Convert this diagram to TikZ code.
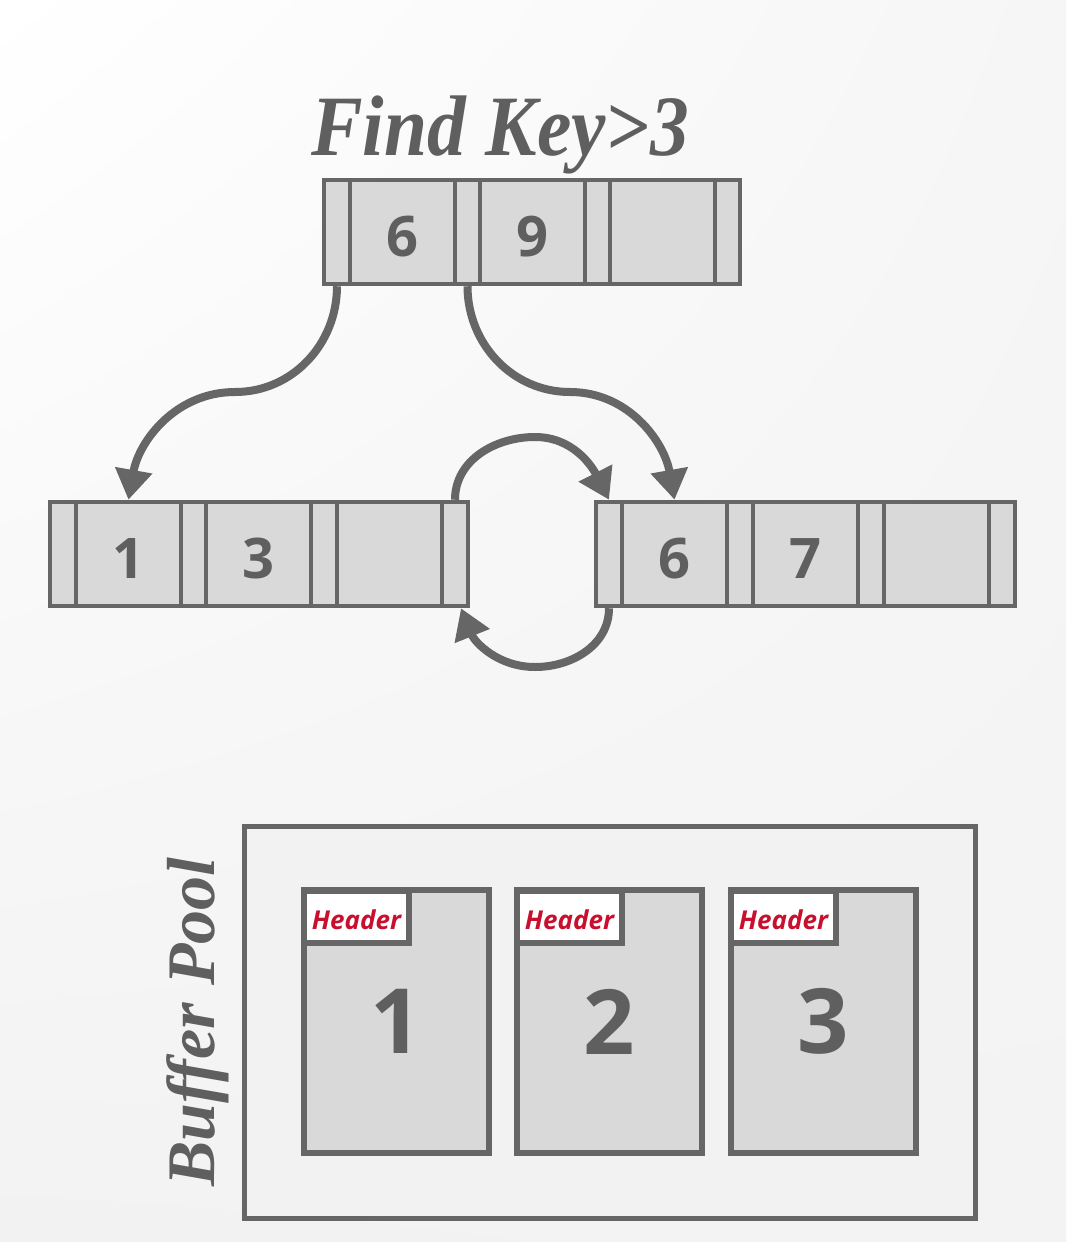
\documentclass[tikz,border=0pt]{standalone}
\usepackage{fontspec}
\setmainfont{Liberation Serif}
\newfontfamily\digitfont{Open Sans}
\usetikzlibrary{arrows.meta,shadings}
\definecolor{gc}{HTML}{666666}
\definecolor{tc}{HTML}{5F5F5F}
\definecolor{cf}{HTML}{D9D9D9}
\definecolor{pf}{HTML}{F2F2F2}
\definecolor{hr}{HTML}{C8102E}
\definecolor{bga}{HTML}{F6F6F6}
\definecolor{bgc}{HTML}{F2F2F2}
\definecolor{bgb}{HTML}{F3F3F3}
\begin{document}
\begin{tikzpicture}[x=1pt,y=1pt,
  cell/.style={draw=gc, fill=cf, line width=4.5pt, inner sep=0pt, minimum height=104pt,
    text=tc, text height=48pt, text depth=0pt,
    font=\digitfont\bfseries\fontsize{56}{56}\selectfont},
  keycell/.style={cell, minimum width=105pt},
  ptrcell/.style={cell, minimum width=26pt},
  link/.style={draw=gc, line width=8pt, -{Triangle[length=30pt,width=36pt]}},
  pool/.style={draw=gc, fill=pf, line width=5pt, inner sep=0pt},
  page/.style={draw=gc, fill=cf, line width=6pt, inner sep=0pt, minimum width=185pt,
    minimum height=263pt, text=tc, font=\digitfont\bfseries\fontsize{90}{90}\selectfont},
  hdr/.style={draw=gc, fill=white, line width=6pt, inner sep=0pt, minimum width=105pt,
    minimum height=52pt, text=hr, text height=25pt, text depth=0pt,
    font=\digitfont\bfseries\itshape\fontsize{26}{26}\selectfont},
  title/.style={text=tc, font=\bfseries\itshape\fontsize{86}{86}\selectfont}
]
% background
\shade[upper left=white, upper right=bga, lower left=bgc, lower right=bgb] (0,0) rectangle (1066,-1242);
\useasboundingbox (0,0) rectangle (1066,-1242);

% title
\node[title, anchor=base, xscale=0.9, transform shape] (find) at (500,-155) {Find Key>3};

% top node
\node[ptrcell] (t0) at (337,-232) {};
\node[keycell] (t1) at (402.5,-232) {6};
\node[ptrcell, minimum width=25pt] (t2) at (467.5,-232) {};
\node[keycell] (t3) at (532.5,-232) {9};
\node[ptrcell, minimum width=25pt] (t4) at (597.5,-232) {};
\node[keycell] (t5) at (662.5,-232) {};
\node[ptrcell, minimum width=25pt] (t6) at (727.5,-232) {};

% left leaf
\node[ptrcell] (l0) at (63,-554) {};
\node[keycell] (l1) at (128.5,-554) {1};
\node[ptrcell, minimum width=25pt] (l2) at (193.5,-554) {};
\node[keycell] (l3) at (258.5,-554) {3};
\node[ptrcell] (l4) at (324,-554) {};
\node[keycell] (l5) at (389.5,-554) {};
\node[ptrcell] (l6) at (455,-554) {};

% right leaf
\node[ptrcell] (r0) at (609,-554) {};
\node[keycell] (r1) at (674.5,-554) {6};
\node[ptrcell] (r2) at (740,-554) {};
\node[keycell] (r3) at (805.5,-554) {7};
\node[ptrcell] (r4) at (871,-554) {};
\node[keycell] (r5) at (936.5,-554) {};
\node[ptrcell] (r6) at (1002,-554) {};

% connectors
\coordinate (m1) at (235,-392);
\coordinate (m2) at (570,-392);
\coordinate (m3) at (535,-437);
\coordinate (m4) at (535,-667);
\draw[link] (t0.south) to[out=-90,in=0] (m1) to[out=180,in=80] (l1.north);
\draw[link] (t2.south) to[out=-90,in=180] (m2) to[out=0,in=100] (r1.north);
\draw[link] (l6.north) to[out=90,in=180] (m3) to[out=0,in=117] (r0.north);
\draw[link] (r0.south) to[out=-90,in=0] (m4) to[out=180,in=-68] ([xshift=6pt]l6.south);

% buffer pool
\node[pool, minimum width=731pt, minimum height=392pt] (bp) at (609.5,-1022) {};
\node[title, rotate=90, anchor=base, font=\bfseries\itshape\fontsize{68}{68}\selectfont] (bpl) at (214,-1022) {Buffer Pool};

\node[page] (p1) at (396.5,-1021.5) {1};
\node[page] (p2) at (609.5,-1021.5) {2};
\node[page] (p3) at (823.5,-1021.5) {3};
\node[hdr] (h1) at (356.5,-916.5) {Header};
\node[hdr] (h2) at (569.5,-916.5) {Header};
\node[hdr] (h3) at (783.5,-916.5) {Header};
\end{tikzpicture}
\end{document}
